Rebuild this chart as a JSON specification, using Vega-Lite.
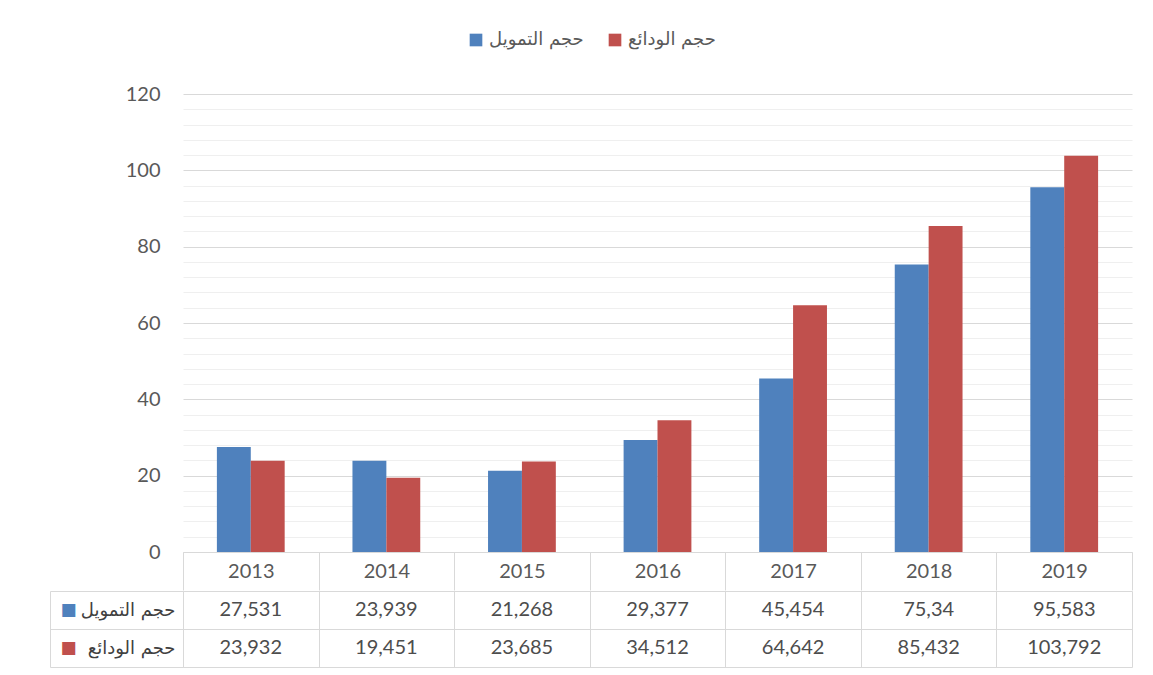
{
  "$schema": "https://vega.github.io/schema/vega-lite/v6.json",
  "padding": {"left": 49, "top": 31, "right": 20, "bottom": 6},
  "background": "white",
  "config": {
    "view": {"stroke": null},
    "font": "Lato",
    "locale": {"number": {"decimal": ",", "thousands": ".", "grouping": [3], "currency": ["", ""]}}
  },
  "data": {"values": [
    {"year": "2013", "series": "حجم التمويل", "value": 27.531},
    {"year": "2013", "series": "حجم الودائع", "value": 23.932},
    {"year": "2014", "series": "حجم التمويل", "value": 23.939},
    {"year": "2014", "series": "حجم الودائع", "value": 19.451},
    {"year": "2015", "series": "حجم التمويل", "value": 21.268},
    {"year": "2015", "series": "حجم الودائع", "value": 23.685},
    {"year": "2016", "series": "حجم التمويل", "value": 29.377},
    {"year": "2016", "series": "حجم الودائع", "value": 34.512},
    {"year": "2017", "series": "حجم التمويل", "value": 45.454},
    {"year": "2017", "series": "حجم الودائع", "value": 64.642},
    {"year": "2018", "series": "حجم التمويل", "value": 75.34},
    {"year": "2018", "series": "حجم الودائع", "value": 85.432},
    {"year": "2019", "series": "حجم التمويل", "value": 95.583},
    {"year": "2019", "series": "حجم الودائع", "value": 103.792}
  ]},
  "spacing": -10,
  "vconcat": [
    {
      "width": 949,
      "height": 458,
      "mark": {"type": "bar"},
      "encoding": {
        "x": {
          "field": "year", "type": "ordinal",
          "scale": {"paddingInner": 0, "paddingOuter": 0},
          "axis": {
            "title": null, "labelAngle": 0, "domainColor": "#d9d9d9",
            "tickBand": "extent", "tickSize": 38, "tickColor": "#d9d9d9",
            "labelPadding": -29, "labelBaseline": "top",
            "labelFontSize": 20, "labelColor": "#595959"
          }
        },
        "xOffset": {
          "field": "series", "type": "nominal",
          "scale": {"domain": ["حجم التمويل", "حجم الودائع"], "paddingInner": 0, "paddingOuter": 1}
        },
        "y": {
          "field": "value", "type": "quantitative",
          "scale": {"domain": [0, 120]},
          "axis": {
            "title": null,
            "values": [0, 4, 8, 12, 16, 20, 24, 28, 32, 36, 40, 44, 48, 52, 56, 60, 64, 68, 72, 76, 80, 84, 88, 92, 96, 100, 104, 108, 112, 116, 120],
            "labelExpr": "datum.value % 20 == 0 ? datum.label : ''",
            "gridColor": {"condition": {"test": "datum.value % 20 == 0", "value": "#d9d9d9"}, "value": "#efefef"},
            "domain": false, "ticks": false, "labelPadding": 23,
            "labelFontSize": 20, "labelColor": "#595959"
          }
        },
        "color": {
          "field": "series", "type": "nominal",
          "scale": {"domain": ["حجم التمويل", "حجم الودائع"], "range": ["#4f81bd", "#c0504d"]},
          "legend": {
            "orient": "none", "legendX": 284, "legendY": -63,
            "direction": "horizontal", "title": null,
            "symbolType": "square", "symbolSize": 160, "symbolStrokeWidth": 0, "symbolOpacity": 1,
            "labelFont": "DejaVu Sans", "labelFontSize": 18, "labelColor": "#595959",
            "columnPadding": 22
          }
        }
      }
    },
    {
      "width": 949,
      "height": 76,
      "layer": [
        {
          "mark": {"type": "text", "fontSize": 20, "color": "#4d4d4d"},
          "encoding": {
            "x": {
              "field": "year", "type": "ordinal",
              "scale": {"paddingInner": 0, "paddingOuter": 0},
              "axis": {"title": null, "labels": false, "ticks": false, "domain": false, "grid": true, "tickBand": "extent", "gridColor": "#d9d9d9"}
            },
            "y": {
              "field": "series", "type": "nominal",
              "scale": {"domain": ["حجم التمويل", "حجم الودائع"], "paddingInner": 0, "paddingOuter": 0},
              "axis": {
                "title": null, "orient": "left", "grid": true, "tickBand": "extent",
                "gridColor": "#d9d9d9", "domainColor": "#d9d9d9", "tickColor": "#d9d9d9",
                "tickSize": 133, "labelPadding": -125,
                "labelFont": "DejaVu Sans", "labelFontSize": 18, "labelColor": "#404040"
              }
            },
            "text": {"field": "value", "type": "quantitative", "format": ".3~f"}
          }
        },
        {
          "mark": {"type": "text", "opacity": 0},
          "encoding": {
            "y": {
              "field": "series", "type": "nominal",
              "scale": {"domain": ["حجم التمويل", "حجم الودائع"], "paddingInner": 0, "paddingOuter": 0},
              "axis": {
                "title": null, "orient": "left", "offset": 133, "grid": false,
                "domainColor": "#d9d9d9", "ticks": false,
                "labelExpr": "'■'",
                "labelColor": {"condition": {"test": "datum.value == 'حجم التمويل'", "value": "#4f81bd"}, "value": "#c0504d"},
                "labelPadding": -26, "labelFont": "DejaVu Sans", "labelFontSize": 17
              }
            },
            "text": {"value": ""}
          }
        }
      ],
      "resolve": {"axis": {"y": "independent"}}
    }
  ]
}
